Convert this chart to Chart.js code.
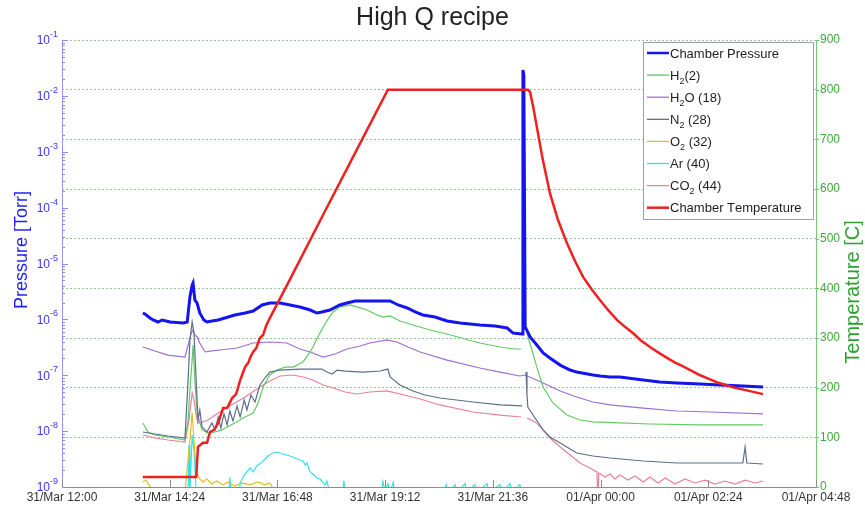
<!DOCTYPE html>
<html>
<head>
<meta charset="utf-8">
<script src="https://cdn.jsdelivr.net/npm/chart.js@4/dist/chart.umd.min.js"></script>
<style>
html,body{margin:0;padding:0;background:#fff;}
#wrap{width:865px;height:506px;}
</style>
</head>
<body>
<div id="wrap"><canvas id="c" width="865" height="506"></canvas></div>
<script>
// ---------- DATA (time in hours from 31/Mar 00:00) ----------
const chartTitle = 'High Q recipe';
const xTickHours = [12, 14.4, 16.8, 19.2, 21.6, 24, 26.4, 28.8];
const xTickLabels = ['31/Mar 12:00', '31/Mar 14:24', '31/Mar 16:48', '31/Mar 19:12', '31/Mar 21:36', '01/Apr 00:00', '01/Apr 02:24', '01/Apr 04:48'];
const pressureTicks = [1e-9, 1e-8, 1e-7, 1e-6, 1e-5, 1e-4, 1e-3, 1e-2, 1e-1];
const tempTicks = [0, 100, 200, 300, 400, 500, 600, 700, 800, 900];
const seriesNames = ['Chamber Pressure', 'H_2(2)', 'H_2O (18)', 'N_2 (28)', 'O_2 (32)', 'Ar (40)', 'CO_2 (44)', 'Chamber Temperature'];
const yLeftTitle = 'Pressure [Torr]';
const yRightTitle = 'Temperature [C]';

const pressureData = [[13.80,1.30e-6],[13.85,1.25e-6],[13.96,1.06e-6],[14.03,9.75e-7],[14.14,8.98e-7],[14.23,9.75e-7],[14.41,8.98e-7],[14.70,8.61e-7],[14.79,8.98e-7],[14.85,2.51e-6],[14.90,4.12e-6],[14.92,4.48e-6],[14.96,2.22e-6],[15.01,1.96e-6],[15.07,1.30e-6],[15.16,9.75e-7],[15.23,8.98e-7],[15.34,9.35e-7],[15.48,9.75e-7],[15.63,1.06e-6],[15.85,1.20e-6],[16.08,1.30e-6],[16.26,1.41e-6],[16.46,1.81e-6],[16.63,1.96e-6],[16.86,1.96e-6],[17.08,1.81e-6],[17.30,1.66e-6],[17.53,1.47e-6],[17.68,1.30e-6],[17.79,1.36e-6],[17.97,1.47e-6],[18.19,1.81e-6],[18.35,1.96e-6],[18.53,2.13e-6],[18.86,2.13e-6],[19.31,2.13e-6],[19.49,1.81e-6],[19.69,1.60e-6],[19.87,1.36e-6],[20.04,1.20e-6],[20.31,1.10e-6],[20.58,9.35e-7],[20.87,8.61e-7],[21.31,7.93e-7],[21.65,7.61e-7],[21.92,7.01e-7],[22.05,5.70e-7],[22.25,5.47e-7],[22.27,2.9e-2],[22.29,2.37e-2],[22.32,7.31e-7],[22.43,4.84e-7],[22.58,3.48e-7],[22.72,2.50e-7],[22.87,2.04e-7],[23.10,1.52e-7],[23.32,1.24e-7],[23.47,1.14e-7],[23.83,1.01e-7],[23.99,9.70e-8],[24.21,9.31e-8],[24.43,9.31e-8],[24.95,8.22e-8],[25.32,7.57e-8],[25.70,7.26e-8],[26.22,6.97e-8],[26.66,6.69e-8],[27.17,6.42e-8],[27.62,6.16e-8]];

const h2Data = [[13.80,1.40e-8],[13.92,9.64e-9],[14.07,8.52e-9],[14.36,7.85e-9],[14.74,6.94e-9],[14.81,1.58e-8],[14.85,5.45e-8],[14.90,1.87e-7],[14.92,3.48e-7],[14.96,8.22e-8],[15.01,2.11e-8],[15.12,1.05e-8],[15.25,9.25e-9],[15.41,9.64e-9],[15.56,1.05e-8],[15.85,1.40e-8],[16.08,1.79e-8],[16.26,2.11e-8],[16.37,3.19e-8],[16.48,6.16e-8],[16.63,1.01e-7],[16.79,1.24e-7],[16.97,1.40e-7],[17.15,1.40e-7],[17.37,1.73e-7],[17.53,2.61e-7],[17.59,3.20e-7],[17.70,4.84e-7],[17.82,7.31e-7],[17.93,1.02e-6],[18.04,1.36e-6],[18.19,1.66e-6],[18.42,1.81e-6],[18.59,1.66e-6],[18.80,1.47e-6],[18.97,1.25e-6],[19.15,1.10e-6],[19.31,1.15e-6],[19.53,9.35e-7],[19.82,7.93e-7],[20.20,6.45e-7],[20.58,5.47e-7],[20.98,4.46e-7],[21.31,3.78e-7],[21.76,3.20e-7],[22.09,2.95e-7],[22.23,2.95e-7],[22.30,null],[22.36,5.70e-7],[22.47,2.83e-7],[22.58,1.40e-7],[22.72,6.16e-8],[22.94,3.19e-8],[23.25,1.94e-8],[23.54,1.58e-8],[23.83,1.46e-8],[24.43,1.40e-8],[25.10,1.34e-8],[26.22,1.29e-8],[27.62,1.29e-8]];

const h2oData = [[13.80,3.20e-7],[14.07,2.72e-7],[14.36,2.30e-7],[14.74,2.12e-7],[14.81,3.48e-7],[14.88,5.70e-7],[14.92,6.45e-7],[14.96,5.25e-7],[15.01,4.84e-7],[15.07,3.78e-7],[15.19,2.61e-7],[15.34,2.72e-7],[15.52,2.83e-7],[15.90,3.07e-7],[16.26,3.78e-7],[16.63,3.94e-7],[17.01,3.78e-7],[17.30,2.95e-7],[17.53,2.61e-7],[17.82,2.12e-7],[18.08,2.40e-7],[18.35,2.95e-7],[18.64,3.34e-7],[18.86,3.78e-7],[19.24,4.28e-7],[19.46,3.94e-7],[19.71,3.20e-7],[19.98,2.61e-7],[20.58,1.87e-7],[21.31,1.35e-7],[21.76,1.14e-7],[22.20,9.70e-8],[22.32,1.01e-7],[22.72,7.26e-8],[23.10,5.23e-8],[23.47,4.08e-8],[23.83,3.32e-8],[24.21,2.94e-8],[24.95,2.59e-8],[25.70,2.29e-8],[26.44,2.20e-8],[27.62,2.03e-8]];

const n2Data = [[13.80,9.64e-9],[14.07,8.88e-9],[14.36,8.18e-9],[14.74,7.53e-9],[14.81,8.22e-8],[14.85,4.28e-7],[14.90,8.98e-7],[14.94,5.70e-7],[14.99,8.22e-8],[15.03,1.58e-8],[15.07,2.39e-8],[15.12,1.19e-8],[15.23,9.64e-9],[15.34,1.40e-8],[15.41,1.05e-8],[15.48,1.79e-8],[15.54,1.14e-8],[15.61,2.03e-8],[15.68,1.29e-8],[15.74,2.29e-8],[15.81,1.52e-8],[15.90,2.82e-8],[15.97,1.79e-8],[16.06,3.61e-8],[16.12,2.39e-8],[16.21,4.43e-8],[16.30,3.32e-8],[16.41,6.69e-8],[16.52,8.93e-8],[16.63,1.14e-7],[16.86,1.24e-7],[17.30,1.29e-7],[17.79,1.29e-7],[17.90,1.14e-7],[18.02,1.05e-7],[18.13,1.24e-7],[18.31,1.19e-7],[18.71,1.14e-7],[19.09,1.19e-7],[19.26,1.29e-7],[19.31,9.31e-8],[19.53,6.69e-8],[19.82,5.23e-8],[20.09,4.43e-8],[20.42,3.92e-8],[21.16,3.32e-8],[21.76,2.94e-8],[22.25,2.82e-8],[22.30,null],[22.34,1.14e-7],[22.36,4.43e-8],[22.38,2.70e-8],[22.54,1.72e-8],[22.72,1.05e-8],[22.87,7.85e-9],[23.10,6.13e-9],[23.47,4.06e-9],[23.83,3.59e-9],[24.21,3.30e-9],[24.95,2.92e-9],[25.70,2.69e-9],[26.66,2.69e-9],[27.17,2.69e-9],[27.22,5.20e-9],[27.26,2.69e-9],[27.62,2.58e-9]];

const o2Data = [[13.80,1.23e-9],[13.87,1.33e-9],[13.96,1.04e-9],[14.03,8e-10],[14.74,8e-10],[14.85,6.94e-9],[14.90,2.11e-8],[14.94,6.94e-9],[14.99,2.01e-9],[15.05,1.45e-9],[15.14,1.23e-9],[15.23,1.39e-9],[15.34,1.13e-9],[15.45,1.28e-9],[15.59,1.09e-9],[15.70,1.23e-9],[15.85,1.04e-9],[16.01,1.18e-9],[16.19,1.09e-9],[16.37,1.23e-9],[16.52,1.09e-9],[16.63,1.18e-9],[16.75,8e-10],[27.62,8e-10]];

const arData = [[13.80,8e-10],[14.81,8e-10],[14.83,5.6e-9],[14.85,8e-10],[14.90,8.5e-9],[14.94,4.6e-9],[14.99,8e-10],[15.72,8e-10],[15.74,1.5e-9],[15.77,8e-10],[15.95,8e-10],[15.97,1.18e-9],[16.06,1.64e-9],[16.12,1.86e-9],[16.19,2.19e-9],[16.26,1.86e-9],[16.34,2.38e-9],[16.46,2.80e-9],[16.59,3.59e-9],[16.70,4.06e-9],[16.81,4.23e-9],[16.92,3.90e-9],[17.08,3.59e-9],[17.24,3.17e-9],[17.37,2.92e-9],[17.42,2.48e-9],[17.46,2.69e-9],[17.53,1.86e-9],[17.59,1.71e-9],[17.68,1.45e-9],[17.75,1.39e-9],[17.86,1.09e-9],[17.90,1.28e-9],[17.97,8e-10],[18.26,8e-10],[18.28,1.3e-9],[18.31,8e-10],[19.11,8e-10],[19.15,1.25e-9],[19.20,8e-10],[19.26,1.15e-9],[19.31,8e-10],[19.38,1.2e-9],[19.42,8e-10],[20.51,8e-10],[20.56,1.1e-9],[20.60,8e-10],[20.76,1.1e-9],[20.80,8e-10],[20.98,1.15e-9],[21.02,8e-10],[21.20,1.1e-9],[21.25,8e-10],[21.47,1.15e-9],[21.51,8e-10],[21.76,1.1e-9],[21.80,8e-10],[21.98,1.15e-9],[22.03,8e-10],[22.20,1.1e-9],[22.25,8e-10],[27.62,8e-10]];

const co2Data = [[13.80,8.52e-9],[14.07,7.53e-9],[14.36,6.94e-9],[14.74,6.39e-9],[14.83,1.58e-8],[14.90,4.81e-8],[14.94,3.61e-8],[14.99,1.94e-8],[15.03,1.40e-8],[15.14,1.46e-8],[15.25,1.58e-8],[15.48,2.11e-8],[15.85,3.19e-8],[16.08,4.08e-8],[16.41,6.16e-8],[16.63,7.89e-8],[16.86,9.70e-8],[17.15,1.01e-7],[17.37,9.31e-8],[17.59,8.22e-8],[17.82,6.69e-8],[18.04,5.91e-8],[18.31,5.01e-8],[18.57,4.62e-8],[18.86,5.01e-8],[19.24,5.23e-8],[19.53,4.62e-8],[19.98,3.76e-8],[20.42,2.94e-8],[21.16,2.20e-8],[21.76,1.94e-8],[22.23,1.79e-8],[22.30,null],[22.36,1.72e-8],[22.54,1.46e-8],[22.72,1.05e-8],[22.87,7.53e-9],[23.10,5.20e-9],[23.32,3.74e-9],[23.54,2.69e-9],[23.76,2.19e-9],[23.92,1.86e-9],[23.94,5e-10],[23.96,1.78e-9],[24.10,1.51e-9],[24.21,1.71e-9],[24.32,1.39e-9],[24.43,1.64e-9],[24.61,1.33e-9],[24.77,1.57e-9],[24.95,1.23e-9],[25.10,1.51e-9],[25.28,1.18e-9],[25.44,1.45e-9],[25.66,1.13e-9],[25.88,1.39e-9],[26.10,1.18e-9],[26.33,1.33e-9],[26.55,1.13e-9],[26.77,1.28e-9],[27.00,1.13e-9],[27.22,1.33e-9],[27.44,1.18e-9],[27.62,1.28e-9]];

const tempData = [[13.80,20],[14.99,20],[15.03,81],[15.14,89],[15.23,89],[15.30,111],[15.39,115],[15.48,129],[15.59,159],[15.68,159],[15.79,179],[15.88,187],[15.97,215],[16.08,242],[16.15,250],[16.20,262],[16.26,272],[16.33,280],[16.41,300],[16.48,306],[16.55,325],[16.63,340],[17.08,418],[17.75,536],[18.42,653],[19.26,800],[22.38,800],[22.43,795],[22.50,765],[22.58,725],[22.70,665],[22.87,592],[23.05,538],[23.25,491],[23.43,455],[23.61,423],[23.80,398],[23.99,376],[24.18,355],[24.37,336],[24.55,322],[24.72,310],[24.90,295],[25.10,282],[25.30,270],[25.48,260],[25.65,251],[25.84,243],[26.05,233],[26.22,225],[26.40,218],[26.59,211],[26.77,206],[26.95,201],[27.28,194],[27.62,187]];

// ---------- STYLE ----------
const FONT = '"Liberation Sans", Arial, Helvetica, sans-serif';
Chart.defaults.font.family = FONT;
const seriesColors = ['#1414ee', '#62c962', '#9b6fd6', '#5a6e8c', '#e0c020', '#33e2ea', '#e8829a', '#f02020'];
const seriesWidths = [3, 1.2, 1.2, 1.2, 1.2, 1.2, 1.2, 2.5];
const seriesAxis = ['y', 'y', 'y', 'y', 'y', 'y', 'y', 'y2'];
const seriesOrder = [1, 3, 4, 2, 6, 7, 5, 0];
const seriesData = [pressureData, h2Data, h2oData, n2Data, o2Data, arData, co2Data, tempData];

const toPoints = pairs => pairs.map(p => ({x: p[0], y: p[1]}));

function drawRich(ctx, text, x, y) {
  let cx = x;
  for (let i = 0; i < text.length; i++) {
    if (text[i] === '_' && i + 1 < text.length) {
      ctx.font = '9px ' + FONT;
      ctx.fillText(text[i + 1], cx, y + 4);
      cx += ctx.measureText(text[i + 1]).width;
      i++;
    } else {
      ctx.font = '13px ' + FONT;
      ctx.fillText(text[i], cx, y);
      cx += ctx.measureText(text[i]).width;
    }
  }
}

const decor = {
  id: 'decor',
  afterDatasetsDraw(chart) {
    const {ctx, chartArea: a, scales} = chart;
    const xs = scales.x, yp = scales.y, yt = scales.y2;
    ctx.save();
    ctx.lineWidth = 1;
    ctx.strokeStyle = '#8c8c8c';
    ctx.beginPath();
    xTickHours.forEach(h => {
      const px = Math.round(xs.getPixelForValue(h)) + 0.5;
      ctx.moveTo(px, a.bottom); ctx.lineTo(px, a.bottom - 7);
    });
    ctx.stroke();
    ctx.strokeStyle = 'rgb(140,140,235)';
    ctx.beginPath();
    pressureTicks.forEach((v, i) => {
      const py = Math.round(yp.getPixelForValue(v)) + 0.5;
      ctx.moveTo(a.left, py); ctx.lineTo(a.left + 6, py);
      if (i < pressureTicks.length - 1) {
        for (let m = 2; m <= 9; m++) {
          const q = Math.round(yp.getPixelForValue(v * m)) + 0.5;
          ctx.moveTo(a.left, q); ctx.lineTo(a.left + 3, q);
        }
      }
    });
    ctx.stroke();
    ctx.strokeStyle = 'rgb(110,195,110)';
    ctx.beginPath();
    tempTicks.forEach(v => {
      const py = Math.round(yt.getPixelForValue(v)) + 0.5;
      ctx.moveTo(a.right, py); ctx.lineTo(a.right + 3, py);
    });
    ctx.stroke();

    const lx = a.right - 173, ly = a.top + 2, lw = 170, lh = 177;
    ctx.fillStyle = '#ffffff';
    ctx.fillRect(lx, ly, lw, lh);
    ctx.strokeStyle = '#a0a0a0';
    ctx.lineWidth = 1;
    ctx.strokeRect(lx + 0.5, ly + 0.5, lw, lh);
    chart.data.datasets.forEach((ds, i) => {
      const yy = ly + 11 + i * 22.1;
      ctx.strokeStyle = ds.borderColor;
      ctx.lineWidth = ds.borderWidth >= 2 ? 2.5 : 1.3;
      ctx.beginPath();
      ctx.moveTo(lx + 4, yy); ctx.lineTo(lx + 26, yy);
      ctx.stroke();
      ctx.fillStyle = '#1e1e1e';
      ctx.textAlign = 'left';
      ctx.textBaseline = 'alphabetic';
      drawRich(ctx, ds.label, lx + 27, yy + 4.5);
    });
    ctx.restore();
  },
  afterDraw(chart) {
    const {ctx, chartArea: a, scales} = chart;
    const yp = scales.y;
    ctx.save();
    pressureTicks.forEach(v => {
      const py = yp.getPixelForValue(v);
      const exp = String(Math.round(Math.log10(v)));
      ctx.fillStyle = 'rgb(55,55,245)';
      ctx.font = '9px ' + FONT;
      const ew = ctx.measureText(exp).width;
      ctx.textAlign = 'left';
      ctx.textBaseline = 'alphabetic';
      ctx.fillText(exp, a.left - 4 - ew, py - 3);
      ctx.font = '12px ' + FONT;
      ctx.textAlign = 'right';
      ctx.textBaseline = 'middle';
      ctx.fillText('10', a.left - 4 - ew, py + 1);
    });
    ctx.textAlign = 'center';
    ctx.textBaseline = 'middle';
    ctx.save();
    ctx.translate(22, 250);
    ctx.rotate(-Math.PI / 2);
    ctx.font = '18px ' + FONT;
    ctx.fillStyle = 'rgb(30,30,240)';
    ctx.fillText(yLeftTitle, 0, 0);
    ctx.restore();
    ctx.save();
    ctx.translate(853, 292);
    ctx.rotate(-Math.PI / 2);
    ctx.font = '20px ' + FONT;
    ctx.fillStyle = 'rgb(45,160,45)';
    ctx.fillText(yRightTitle, 0, 0);
    ctx.restore();
    ctx.restore();
  }
};

const datasets = seriesNames.map((name, i) => ({
  label: name,
  data: toPoints(seriesData[i]),
  borderColor: seriesColors[i],
  backgroundColor: seriesColors[i],
  borderWidth: seriesWidths[i],
  yAxisID: seriesAxis[i],
  order: seriesOrder[i],
  pointRadius: 0,
  tension: 0,
  spanGaps: false,
  clip: 0,
  fill: false
}));

new Chart(document.getElementById('c'), {
  type: 'line',
  data: { datasets },
  plugins: [decor],
  options: {
    responsive: false,
    animation: false,
    events: [],
    layout: { padding: 0, autoPadding: false },
    elements: { line: { borderJoinStyle: 'miter', borderCapStyle: 'butt' } },
    plugins: {
      legend: { display: false },
      tooltip: { enabled: false },
      title: {
        display: true,
        text: chartTitle,
        color: '#222222',
        font: { size: 25, weight: 'normal', family: FONT },
        padding: { top: 3, bottom: 7 }
      }
    },
    scales: {
      x: {
        type: 'linear',
        min: 12,
        max: 28.8,
        afterBuildTicks: s => { s.ticks = xTickHours.map(v => ({ value: v })); },
        afterFit: s => { s.height = 19; },
        ticks: {
          autoSkip: false,
          maxRotation: 0,
          padding: 3,
          color: '#333333',
          font: { size: 12 },
          callback: (v, i) => xTickLabels[i]
        },
        grid: { display: false, drawTicks: false },
        border: { display: true, color: '#8c8c8c', width: 1 }
      },
      y: {
        type: 'logarithmic',
        position: 'left',
        min: 1e-9,
        max: 1e-1,
        afterFit: s => { s.width = 62; },
        ticks: { display: false },
        grid: { display: false, drawTicks: false },
        border: { display: true, color: 'rgb(150,150,235)', width: 1 }
      },
      y2: {
        type: 'linear',
        position: 'right',
        min: 0,
        max: 900,
        afterBuildTicks: s => { s.ticks = tempTicks.map(v => ({ value: v })); },
        afterFit: s => { s.width = 49; },
        ticks: {
          padding: 4,
          color: 'rgb(60,170,60)',
          font: { size: 12 },
          callback: v => String(v)
        },
        grid: {
          display: true,
          drawOnChartArea: true,
          drawTicks: false,
          lineWidth: 1,
          color: c => (c.tick && c.tick.value === 0) ? 'rgba(0,0,0,0)' : 'rgba(120,190,120,0.8)'
        },
        border: { display: true, color: 'rgb(120,200,120)', width: 1, dash: [2, 2] }
      }
    }
  }
});
</script>
</body>
</html>
